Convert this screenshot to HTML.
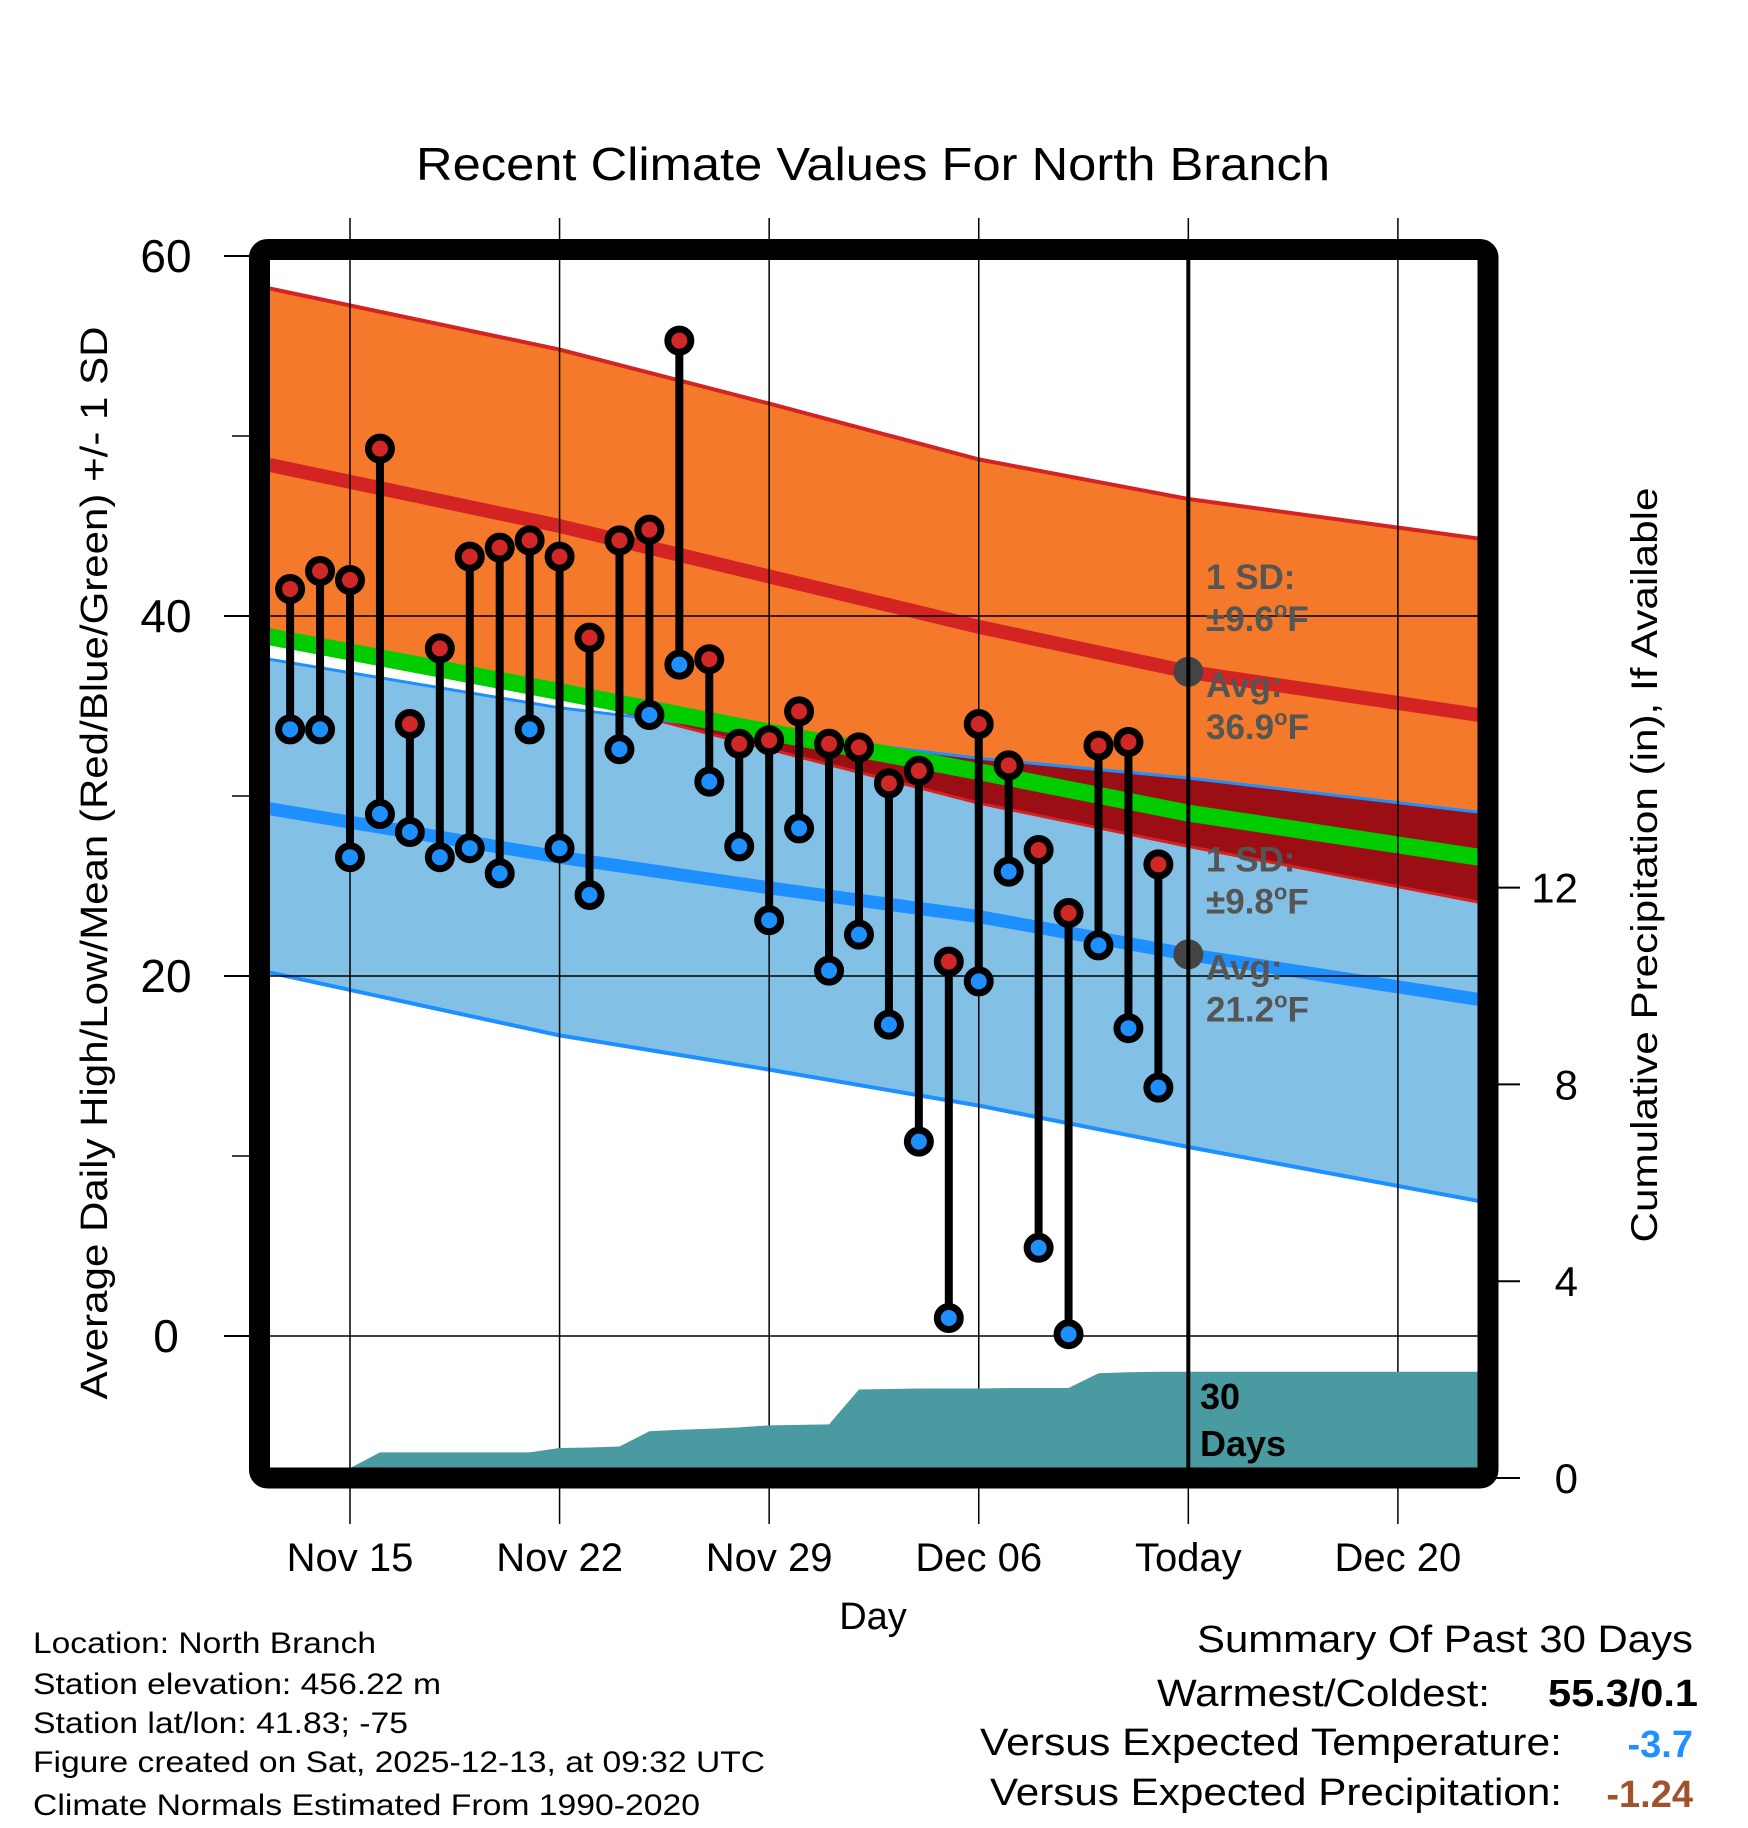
<!DOCTYPE html>
<html><head><meta charset="utf-8"><style>
html,body{margin:0;padding:0;background:#fff;}
svg{display:block;font-family:"Liberation Sans",Arial,sans-serif;}
</style></head><body>
<svg id="chart" width="1748" height="1828" viewBox="0 0 1748 1828" xmlns="http://www.w3.org/2000/svg">
<defs>
 <clipPath id="plotClip"><rect x="270" y="260" width="1208" height="1208"/></clipPath>
 <clipPath id="blueClip"><polygon id="blueClipPoly" points=""/></clipPath>
</defs>
<g id="plot" clip-path="url(#plotClip)"></g>
<g id="over"></g>
<text x="873" y="180" font-size="46" text-anchor="middle" textLength="914" lengthAdjust="spacingAndGlyphs">Recent Climate Values For North Branch</text>
<text transform="translate(107,863) rotate(-90)" font-size="38" text-anchor="middle" textLength="1073" lengthAdjust="spacingAndGlyphs">Average Daily High/Low/Mean (Red/Blue/Green) +/- 1 SD</text>
<text transform="translate(1657,865) rotate(-90)" font-size="37" text-anchor="middle" textLength="755" lengthAdjust="spacingAndGlyphs">Cumulative Precipitation (in), If Available</text>
<text x="873" y="1629" font-size="38" text-anchor="middle">Day</text>
<g font-size="30">
 <text x="33" y="1653" textLength="343" lengthAdjust="spacingAndGlyphs">Location: North Branch</text>
 <text x="33" y="1694" textLength="408" lengthAdjust="spacingAndGlyphs">Station elevation: 456.22 m</text>
 <text x="33" y="1733" textLength="375" lengthAdjust="spacingAndGlyphs">Station lat/lon: 41.83; -75</text>
 <text x="33" y="1772" textLength="732" lengthAdjust="spacingAndGlyphs">Figure created on Sat, 2025-12-13, at 09:32 UTC</text>
 <text x="33" y="1815" textLength="667" lengthAdjust="spacingAndGlyphs">Climate Normals Estimated From 1990-2020</text>
</g>
<g font-size="38">
 <text x="1693" y="1652" text-anchor="end" textLength="496" lengthAdjust="spacingAndGlyphs">Summary Of Past 30 Days</text>
 <text x="1490" y="1706" text-anchor="end" textLength="333" lengthAdjust="spacingAndGlyphs">Warmest/Coldest:</text>
 <text x="1698" y="1706" text-anchor="end" font-weight="bold" textLength="150" lengthAdjust="spacingAndGlyphs">55.3/0.1</text>
 <text x="1562" y="1755" text-anchor="end" textLength="582" lengthAdjust="spacingAndGlyphs">Versus Expected Temperature:</text>
 <text x="1693" y="1757" text-anchor="end" font-weight="bold" fill="#1e90ff">-3.7</text>
 <text x="1562" y="1805" text-anchor="end" textLength="572" lengthAdjust="spacingAndGlyphs">Versus Expected Precipitation:</text>
 <text x="1693" y="1807" text-anchor="end" font-weight="bold" fill="#a0522d">-1.24</text>
</g>
</svg>
<script>
const NS="http://www.w3.org/2000/svg";
// ---- data ----
const dayLabels=["Nov 15","Nov 22","Nov 29","Dec 06","Today","Dec 20"];
const dayLabelIdx=[2,9,16,23,30,37];
const highs=[41.5,42.5,42.0,49.3,34.0,38.2,43.3,43.8,44.2,43.3,38.8,44.2,44.8,55.3,37.6,32.9,33.1,34.7,32.9,32.7,30.7,31.4,20.8,34.0,31.7,27.0,23.5,32.8,33.0,26.2];
const lows=[33.7,33.7,26.6,29.0,28.0,26.6,27.1,25.7,33.7,27.1,24.5,32.6,34.5,37.3,30.8,27.2,23.1,28.2,20.3,22.3,17.3,10.8,1.0,19.7,25.8,4.9,0.1,21.7,17.1,13.8];
const precip=[0,0,0.2,0.52,0.52,0.52,0.52,0.52,0.52,0.61,0.62,0.64,0.95,0.98,1.0,1.03,1.07,1.08,1.09,1.80,1.81,1.82,1.82,1.82,1.83,1.83,1.83,2.13,2.15,2.16];
const normDays=[-0.7,9,16,23,30,39.7];
const hiUpper=[58.2,54.8,51.8,48.7,46.5,44.3];
const hiMean=[48.4,45.0,42.2,39.4,36.9,34.5];
const hiLower=[39.2,35.6,32.6,29.6,27.2,24.1];
const loUpper=[37.6,34.9,33.5,32.1,31.0,29.1];
const loMean=[29.3,26.6,24.9,23.3,21.2,18.7];
const loLower=[20.2,16.7,14.8,12.8,10.5,7.5];
const yTicks=[0,20,40,60];
const yMinor=[10,30,50];
const pTicks=[0,4,8,12];
const todayIdx=30;
const annot=[["1 SD:","±9.6","Avg:","36.9",36.9],["1 SD:","±9.8","Avg:","21.2",21.2]];
// ---- scales ----
const X=d=>350+(d-2)*29.94;
const Y=v=>1336-v*18;
const P=p=>1478-p*49.2;
const plot=document.getElementById('plot'), over=document.getElementById('over');
function mk(tag,attrs,parent){const e=document.createElementNS(NS,tag);for(const k in attrs)e.setAttribute(k,attrs[k]);parent.appendChild(e);return e;}
const pts=(days,vals)=>days.map((d,i)=>X(d)+','+Y(vals[i]));
function band(up,lo){return pts(normDays,up).concat(pts(normDays,lo).reverse()).join(' ');}
let e=mk('polygon',{points:band(hiUpper,hiLower),fill:'#f5792b'},plot);

const bp=band(loUpper,loLower);
document.getElementById('blueClipPoly').setAttribute('points',bp);
e=mk('polygon',{points:bp,fill:'#82c0e6'},plot);

e=mk('polygon',{points:band(hiUpper,hiLower),fill:'#9b0f14','clip-path':'url(#blueClip)'},plot);

function line(vals,color,w,name){const l=mk('polyline',{points:pts(normDays,vals).join(' '),fill:'none',stroke:color,'stroke-width':w,'stroke-linejoin':'round'},plot);
}
line(hiUpper,'#d42323',4,'high-upper-line');
line(hiLower,'#d42323',3,'high-lower-line');
line(loUpper,'#1e8fff',3,'low-upper-line');
line(loLower,'#1e8fff',4,'low-lower-line');
line(hiMean.map((v,i)=>(v+loMean[i])/2),'#00cc00',17,'mean-normal-line');
line(hiMean,'#d42323',14,'high-normal-line');
line(loMean,'#1e8fff',13,'low-normal-line');
yTicks.forEach(v=>{const g=mk('line',{x1:270,x2:1478,y1:Y(v),y2:Y(v),stroke:'#000','stroke-width':1.5},over);

const t=mk('line',{x1:224,x2:250,y1:Y(v),y2:Y(v),stroke:'#000','stroke-width':2},over);

const tx=mk('text',{x:166,y:Y(v)+16,'font-size':46,'text-anchor':'middle'},over);tx.textContent=v;
});
yMinor.forEach(v=>{const t=mk('line',{x1:232,x2:250,y1:Y(v),y2:Y(v),stroke:'#000','stroke-width':1.5},over);
});
dayLabelIdx.forEach((d,i)=>{const g=mk('line',{x1:X(d),x2:X(d),y1:218,y2:1524,stroke:'#000','stroke-width':1.5},over);

const tx=mk('text',{x:X(d),y:1571,'font-size':40,'text-anchor':'middle'},over);tx.textContent=dayLabels[i];
});
pTicks.forEach(p=>{const t=mk('line',{x1:1496,x2:1520,y1:P(p),y2:P(p),stroke:'#000','stroke-width':2},over);

const tx=mk('text',{x:1578,y:P(p)+15,'font-size':42,'text-anchor':'end'},over);tx.textContent=p;
});
let pp=[X(-0.7)+','+P(0)];precip.forEach((p,i)=>pp.push(X(i)+','+P(p)));
pp.push(X(39.7)+','+P(precip[precip.length-1]));pp.push(X(39.7)+','+P(-0.5));pp.push(X(-0.7)+','+P(-0.5));
e=mk('polygon',{points:pp.join(' '),fill:'#4a9aa2','clip-path':'url(#plotClip)'},over);

annot.forEach(a=>{const g=mk('g',{'font-size':35,'font-weight':'bold',fill:'#555'},over);

const y=Y(a[4]);
[[a[0],-83,false],[a[1],-41,true],[a[2],25,false],[a[3],67,true]].forEach(s=>{const t=mk('text',{x:1206,y:y+s[1]},g);
if(s[2]){t.appendChild(document.createTextNode(s[0]));const sup=mk('tspan',{'font-size':22,dy:-14},t);sup.textContent='o';const f=mk('tspan',{dy:14},t);f.textContent='F';}
else t.textContent=s[0];});
const c=mk('circle',{cx:X(todayIdx),cy:y,r:15,fill:'#444'},over);
});
e=mk('line',{x1:X(todayIdx),x2:X(todayIdx),y1:260,y2:1468,stroke:'#000','stroke-width':4},over);

const d30=mk('text',{x:1200,y:1409,'font-size':36,'font-weight':'bold'},over);d30.textContent='30';

const d30b=mk('text',{x:1200,y:1456,'font-size':36,'font-weight':'bold'},over);d30b.textContent='Days';

highs.forEach((h,i)=>{const x=X(i);
const s=mk('line',{x1:x,x2:x,y1:Y(h),y2:Y(lows[i]),stroke:'#000','stroke-width':8},over);

const c1=mk('circle',{cx:x,cy:Y(h),r:11.5,fill:'#d02727',stroke:'#000','stroke-width':7},over);

const c2=mk('circle',{cx:x,cy:Y(lows[i]),r:11.5,fill:'#1e8fff',stroke:'#000','stroke-width':7},over);
});
e=mk('rect',{x:259.5,y:249.5,width:1228.5,height:1228.5,rx:8,fill:'none',stroke:'#000','stroke-width':21},over);

</script>
</body></html>
